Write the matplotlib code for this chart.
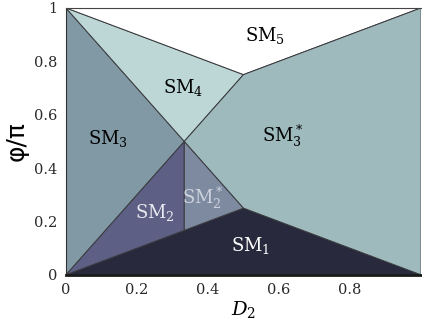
import matplotlib.pyplot as plt
from matplotlib.patches import Polygon

plt.rcParams['font.family'] = 'DejaVu Serif'
plt.rcParams['mathtext.fontset'] = 'dejavuserif'

# corner points of the phase diagram (D2, phi/pi)
O = (0, 0)
TL = (0, 1)
TR = (1, 1)
BR = (1, 0)
A = (1/3, 0.5)
B = (0.5, 0.75)
C = (0.5, 0.25)
D = (1/3, 1/6)

regions = {
    'SM1': [O, C, BR],
    'SM2': [O, A, D],
    'SM2s': [A, D, C],
    'SM3': [O, TL, A],
    'SM4': [TL, B, A],
    'SM5': [TL, TR, B],
    'SM3s': [A, B, TR, BR, C],
}
colors = {
    'SM1': '#29293d',
    'SM2': '#5d5f84',
    'SM2s': '#7d8aa0',
    'SM3': '#8199a4',
    'SM4': '#bdd7d7',
    'SM5': '#ffffff',
    'SM3s': '#9ebabd',
}
labels = {
    'SM1': (r'SM$_1$', 0.52, 0.11, 'white'),
    'SM2': (r'SM$_2$', 0.25, 0.235, '#e8e8f0'),
    'SM2s': (r'SM$_2^*$', 0.385, 0.29, '#ccd2dc'),
    'SM3': (r'SM$_3$', 0.12, 0.51, 'black'),
    'SM4': (r'SM$_4$', 0.33, 0.70, 'black'),
    'SM5': (r'SM$_5$', 0.56, 0.895, 'black'),
    'SM3s': (r'SM$_3^*$', 0.61, 0.52, 'black'),
}

fig = plt.figure(figsize=(4.22, 3.28), dpi=100)
ax = fig.add_axes([0.156, 0.162, 0.842, 0.814])

for name, pts in regions.items():
    ax.add_patch(Polygon(pts, closed=True, facecolor=colors[name],
                         edgecolor='#38383c', linewidth=0.7))

for name, (txt, x, y, c) in labels.items():
    ax.text(x, y, txt, color=c, fontsize=13, ha='center', va='center')

ax.set_xlim(0, 1)
ax.set_ylim(0, 1)
ax.set_xticks([0, 0.2, 0.4, 0.6, 0.8])
ax.set_xticklabels(['0', '0.2', '0.4', '0.6', '0.8'])
ax.set_yticks([0, 0.2, 0.4, 0.6, 0.8, 1])
ax.set_yticklabels(['0', '0.2', '0.4', '0.6', '0.8', '1'])
ax.tick_params(length=0, labelsize=10.5, colors='#2a2a2a', pad=6)

ax.spines['right'].set_visible(False)
ax.spines['bottom'].set_linewidth(2)
ax.spines['bottom'].set_color('#1a1a1a')
ax.spines['left'].set_color('#333333')
ax.spines['top'].set_color('#444444')

ax.set_xlabel(r'$D_2$', fontsize=14, labelpad=1)
ax.set_ylabel('φ/π', fontsize=18, family='DejaVu Sans', labelpad=4)

fig.savefig('out.png', dpi=100)
